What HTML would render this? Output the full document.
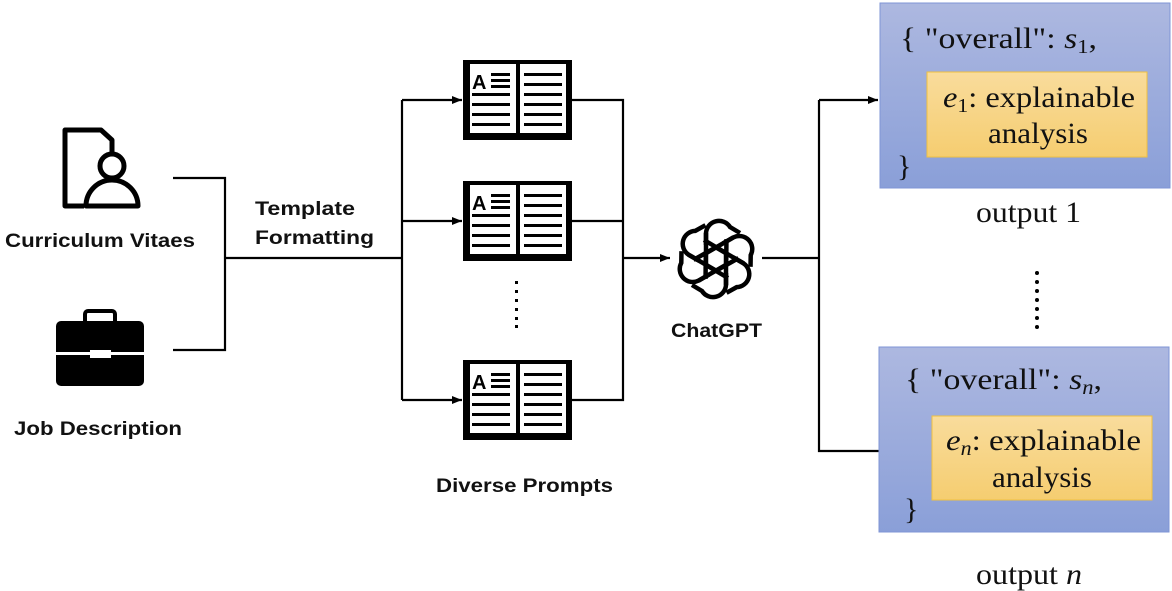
<!DOCTYPE html>
<html><head><meta charset="utf-8"><style>
html,body{margin:0;padding:0;background:#fff;width:1172px;height:591px;overflow:hidden}
svg{display:block}
.s{font-family:"Liberation Sans",sans-serif;font-weight:bold;font-size:19px;fill:#111}
.r{font-family:"Liberation Serif",serif;font-size:30px;fill:#111}
</style></head><body>
<svg width="1172" height="591" viewBox="0 0 1172 591" xmlns="http://www.w3.org/2000/svg">
<defs>
<marker id="ah" markerWidth="10" markerHeight="8" refX="10" refY="4" orient="auto" markerUnits="userSpaceOnUse">
<path d="M0,0 L10,4 L0,8 z" fill="#000"/></marker>
<linearGradient id="bl" x1="0" y1="0" x2="0" y2="1"><stop offset="0" stop-color="#adb8e0"/><stop offset="1" stop-color="#8a9fd8"/></linearGradient>
<linearGradient id="yl" x1="0" y1="0" x2="0" y2="1"><stop offset="0" stop-color="#f9dc9c"/><stop offset="1" stop-color="#f5cd70"/></linearGradient>
<g id="book">
<rect x="463" y="60" width="109" height="80" fill="#000"/>
<rect x="470" y="64" width="46" height="69" fill="#fff"/>
<rect x="520" y="64" width="46" height="69" fill="#fff"/>
<text x="472" y="89" font-family="Liberation Sans,sans-serif" font-weight="bold" font-size="20" fill="#000">A</text>
<g fill="#000">
<rect x="491" y="73" width="19" height="3"/><rect x="491" y="79" width="19" height="3"/><rect x="491" y="85" width="19" height="3"/>
<rect x="472" y="93" width="38" height="3"/><rect x="472" y="103" width="38" height="3"/><rect x="472" y="113" width="38" height="3"/><rect x="472" y="123" width="38" height="3"/>
<rect x="524" y="73" width="38" height="3"/><rect x="524" y="83" width="38" height="3"/><rect x="524" y="93" width="38" height="3"/><rect x="524" y="103" width="38" height="3"/><rect x="524" y="113" width="38" height="3"/><rect x="524" y="123" width="38" height="3"/>
</g>
</g>
</defs>

<path d="M112,152 L112,140 L101,130 L65,130 L65,206 L84,206" fill="none" stroke="#000" stroke-width="5" stroke-linejoin="round"/>
<circle cx="112" cy="166" r="12" fill="none" stroke="#000" stroke-width="5"/>
<path d="M86,206 A26,26 0 0 1 138,206 Z" fill="none" stroke="#000" stroke-width="5" stroke-linejoin="round"/>
<rect x="85" y="311" width="30" height="14" rx="3" fill="none" stroke="#000" stroke-width="4"/>
<rect x="56" y="321" width="88" height="65" rx="5" fill="#000"/>
<rect x="56" y="352" width="88" height="3" fill="#fff"/>
<rect x="90" y="350" width="21" height="8" fill="#fff"/>

<text class="s" x="5" y="247" textLength="190" lengthAdjust="spacingAndGlyphs">Curriculum Vitaes</text>
<text class="s" x="14" y="435" textLength="168" lengthAdjust="spacingAndGlyphs">Job Description</text>
<text class="s" x="255" y="215" textLength="100" lengthAdjust="spacingAndGlyphs">Template</text>
<text class="s" x="255" y="244" textLength="119" lengthAdjust="spacingAndGlyphs">Formatting</text>
<text class="s" x="436" y="492" textLength="177" lengthAdjust="spacingAndGlyphs">Diverse Prompts</text>
<text class="s" x="671" y="337" textLength="91" lengthAdjust="spacingAndGlyphs">ChatGPT</text>

<g fill="none" stroke="#000" stroke-width="2.2">
<path d="M173,178 H225 V350 H173"/>
<path d="M225,258 H402"/>
<path d="M402,100 V400"/>
<path d="M402,100 H462" marker-end="url(#ah)"/>
<path d="M402,221 H462" marker-end="url(#ah)"/>
<path d="M402,400 H462" marker-end="url(#ah)"/>
<path d="M572,100 H623 V400 H572"/>
<path d="M572,221 H623"/>
<path d="M623,258 H670" marker-end="url(#ah)"/>
<path d="M762,258 H819"/>
<path d="M819,100 V451 H879"/>
<path d="M819,100 H878" marker-end="url(#ah)"/>
</g>

<use href="#book"/>
<use href="#book" transform="translate(0,121)"/>
<use href="#book" transform="translate(0,300)"/>
<g fill="#000"><rect x="515" y="281" width="3" height="3"/><rect x="515" y="290" width="3" height="3"/><rect x="515" y="299" width="3" height="3"/><rect x="515" y="308" width="3" height="3"/><rect x="515" y="317" width="3" height="3"/><rect x="515" y="325" width="3" height="3"/></g>

<g transform="translate(716,259)" fill="none" stroke="#000" stroke-width="4.5">
<g id="petal"><path d="M-10,-14 L-10,-26 A13,13 0 0 1 14,-32 L24,-26"/></g>
<use href="#petal" transform="rotate(60)"/><use href="#petal" transform="rotate(120)"/>
<use href="#petal" transform="rotate(180)"/><use href="#petal" transform="rotate(240)"/><use href="#petal" transform="rotate(300)"/>
<g id="inner"><path d="M-10,-26 L-10,6 L12,19"/></g>
<use href="#inner" transform="rotate(60)"/><use href="#inner" transform="rotate(120)"/>
<use href="#inner" transform="rotate(180)"/><use href="#inner" transform="rotate(240)"/><use href="#inner" transform="rotate(300)"/>
</g>

<rect x="880" y="3" width="290" height="185" fill="url(#bl)" stroke="#7f95d6" stroke-width="1"/>
<text class="r" x="900" y="48" textLength="197" lengthAdjust="spacingAndGlyphs">{ "overall":  <tspan font-style="italic">s</tspan><tspan font-size="20" dy="5">1</tspan><tspan dy="-5">,</tspan></text>
<rect x="927" y="72" width="220" height="85" fill="url(#yl)" stroke="#f0c040" stroke-width="1"/>
<text class="r" x="943" y="107" textLength="192" lengthAdjust="spacingAndGlyphs"><tspan font-style="italic">e</tspan><tspan font-size="20" dy="5">1</tspan><tspan dy="-5">: explainable</tspan></text>
<text class="r" x="988" y="143" textLength="100" lengthAdjust="spacingAndGlyphs">analysis</text>
<text class="r" x="897" y="176">}</text>
<text class="r" x="976" y="222" textLength="105" lengthAdjust="spacingAndGlyphs">output 1</text>
<g fill="#000"><circle cx="1037" cy="273" r="2"/><circle cx="1037" cy="282" r="2"/><circle cx="1037" cy="291" r="2"/><circle cx="1037" cy="300" r="2"/><circle cx="1037" cy="309" r="2"/><circle cx="1037" cy="318" r="2"/><circle cx="1037" cy="327" r="2"/></g>

<rect x="879" y="347" width="290" height="185" fill="url(#bl)" stroke="#7f95d6" stroke-width="1"/>
<text class="r" x="905" y="389" textLength="197" lengthAdjust="spacingAndGlyphs">{ "overall":  <tspan font-style="italic">s</tspan><tspan font-size="20" font-style="italic" dy="5">n</tspan><tspan dy="-5">,</tspan></text>
<rect x="932" y="416" width="220" height="84" fill="url(#yl)" stroke="#f0c040" stroke-width="1"/>
<text class="r" x="946" y="450" textLength="195" lengthAdjust="spacingAndGlyphs"><tspan font-style="italic">e</tspan><tspan font-size="20" font-style="italic" dy="5">n</tspan><tspan dy="-5">: explainable</tspan></text>
<text class="r" x="992" y="487" textLength="100" lengthAdjust="spacingAndGlyphs">analysis</text>
<text class="r" x="904" y="519">}</text>
<text class="r" x="976" y="584" textLength="106" lengthAdjust="spacingAndGlyphs">output <tspan font-style="italic">n</tspan></text>
</svg>
</body></html>
